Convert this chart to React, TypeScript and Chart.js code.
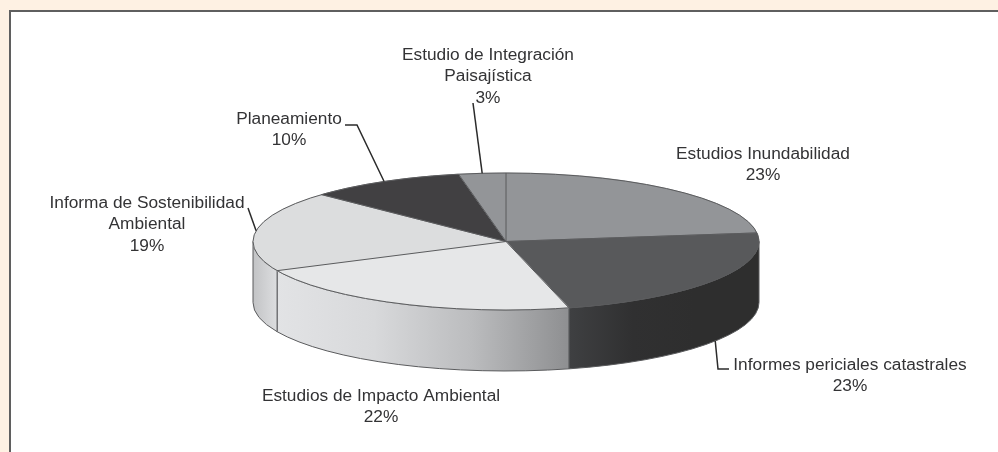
import React, { useEffect, useRef } from "react";
import { Chart, registerables } from "chart.js";

Chart.register(...registerables);

const categories = [
  "Estudios Inundabilidad",
  "Informes periciales catastrales",
  "Estudios de Impacto Ambiental",
  "Informa de Sostenibilidad Ambiental",
  "Planeamiento",
  "Estudio de Integración Paisajística",
];
const shares = [23, 23, 22, 19, 10, 3];
const labelLines = [
  ["Estudios Inundabilidad"],
  ["Informes periciales catastrales"],
  ["Estudios de Impacto Ambiental"],
  ["Informa de Sostenibilidad", "Ambiental"],
  ["Planeamiento"],
  ["Estudio de Integración", "Paisajística"],
];

// Styling and layout, kept apart from the values above.
const topColors = ["#939598", "#58595b", "#e6e7e8", "#dcddde", "#414042", "#939598"];
const wallStops: (string[] | null)[] = [
  null,
  ["#3f4042", "#303031", "#2e2e2e", "#2e2e2e"],
  ["#e2e3e5", "#d8d9db", "#bbbcbe", "#8e8f91"],
  ["#c2c3c5", "#cbccce", "#d4d5d7", "#dcdddf"],
  null,
  null,
];
const labelCenters = [
  { x: 763, y: 154 },
  { x: 850, y: 365 },
  { x: 381, y: 396 },
  { x: 147, y: 203 },
  { x: 289, y: 119 },
  { x: 488, y: 55 },
];
const leaderBends: ({ x: number; y: number }[] | null)[] = [
  null,
  [{ x: 718, y: 369 }, { x: 729, y: 369 }],
  null,
  [{ x: 248, y: 208 }],
  [{ x: 357, y: 125 }, { x: 345, y: 125 }],
  [{ x: 473, y: 103 }],
];
const RADIUS_X = 253;
const RADIUS_Y = 68.5;
const DEPTH = 61;
const LINE_HEIGHT = 21.5;
const EDGE = "#5a5b5d";
const FONT = '17.3px "Liberation Sans", Arial, sans-serif';

const pie3d = {
  id: "pie3d",
  beforeDatasetsDraw(chart: any) {
    const { ctx } = chart;
    const arcs = chart.getDatasetMeta(0).data;
    const cx = arcs[0].x;
    const cy = arcs[0].y;
    ctx.save();
    arcs.forEach((arc: any, i: number) => {
      const a = Math.max(arc.startAngle, 0);
      const b = Math.min(arc.endAngle, Math.PI);
      if (a >= b || !wallStops[i]) return;
      const xa = cx + RADIUS_X * Math.cos(a);
      const xb = i === 3 ? cx - RADIUS_X : cx + RADIUS_X * Math.cos(b);
      const g = ctx.createLinearGradient(Math.min(xa, xb), 0, Math.max(xa, xb), 0);
      const stops = wallStops[i] as string[];
      stops.forEach((c, k) => g.addColorStop(k / (stops.length - 1), c));
      ctx.beginPath();
      ctx.ellipse(cx, cy, RADIUS_X, RADIUS_Y, 0, a, b);
      ctx.ellipse(cx, cy + DEPTH, RADIUS_X, RADIUS_Y, 0, b, a, true);
      ctx.closePath();
      ctx.fillStyle = g;
      ctx.fill();
      ctx.strokeStyle = EDGE;
      ctx.lineWidth = 1;
      ctx.stroke();
    });
    ctx.restore();
    ctx.save();
    ctx.translate(cx, cy);
    ctx.scale(1, RADIUS_Y / RADIUS_X);
    ctx.translate(-cx, -cy);
  },
  afterDatasetsDraw(chart: any) {
    const { ctx } = chart;
    ctx.restore();
    const arcs = chart.getDatasetMeta(0).data;
    const cx = arcs[0].x;
    const cy = arcs[0].y;
    ctx.save();
    ctx.strokeStyle = EDGE;
    ctx.lineWidth = 1;
    arcs.forEach((arc: any) => {
      ctx.beginPath();
      ctx.moveTo(cx, cy);
      ctx.lineTo(
        cx + RADIUS_X * Math.cos(arc.startAngle),
        cy + RADIUS_Y * Math.sin(arc.startAngle)
      );
      ctx.stroke();
    });
    ctx.beginPath();
    ctx.ellipse(cx, cy, RADIUS_X, RADIUS_Y, 0, 0, Math.PI * 2);
    ctx.stroke();

    // Leader lines start at the middle of each slice's rim.
    ctx.strokeStyle = "#2b2b2b";
    ctx.lineWidth = 1.5;
    arcs.forEach((arc: any, i: number) => {
      const bends = leaderBends[i];
      if (!bends) return;
      const mid = (arc.startAngle + arc.endAngle) / 2;
      const onWall = Math.sin(mid) > 0;
      ctx.beginPath();
      ctx.moveTo(
        cx + RADIUS_X * Math.cos(mid),
        cy + RADIUS_Y * Math.sin(mid) + (onWall ? DEPTH : 0)
      );
      bends.forEach((p) => ctx.lineTo(p.x, p.y));
      ctx.stroke();
    });

    ctx.fillStyle = "#333335";
    ctx.font = FONT;
    ctx.textAlign = "center";
    ctx.textBaseline = "middle";
    categories.forEach((_, i) => {
      const lines = [...labelLines[i], `${shares[i]}%`];
      lines.forEach((t, k) => {
        ctx.fillText(t, labelCenters[i].x, labelCenters[i].y + k * LINE_HEIGHT);
      });
    });
    ctx.restore();
  },
};

export default function App() {
  const ref = useRef<HTMLCanvasElement>(null);
  useEffect(() => {
    const chart = new Chart(ref.current as HTMLCanvasElement, {
      type: "pie",
      data: {
        labels: categories,
        datasets: [
          {
            data: shares,
            backgroundColor: topColors,
            borderColor: topColors,
            borderWidth: 1,
            clip: false,
          } as any,
        ],
      },
      options: {
        animation: false,
        responsive: false,
        events: [],
        radius: RADIUS_X,
        layout: { padding: { left: 14, top: 31 } },
        plugins: { legend: { display: false }, tooltip: { enabled: false } },
      } as any,
      plugins: [pie3d],
    });
    return () => chart.destroy();
  }, []);
  return (
    <div
      style={{
        position: "absolute",
        left: 0,
        top: 0,
        width: 998,
        height: 452,
        overflow: "hidden",
        background: "#fef1e3",
      }}
    >
      <div
        style={{
          position: "absolute",
          left: 9,
          top: 10,
          width: 989,
          height: 442,
          background: "#ffffff",
          borderLeft: "2px solid #5f5f5f",
          borderTop: "2px solid #5f5f5f",
          boxSizing: "border-box",
        }}
      />
      <canvas
        ref={ref}
        width={998}
        height={452}
        style={{ position: "absolute", left: 0, top: 0, display: "block" }}
      />
    </div>
  );
}
